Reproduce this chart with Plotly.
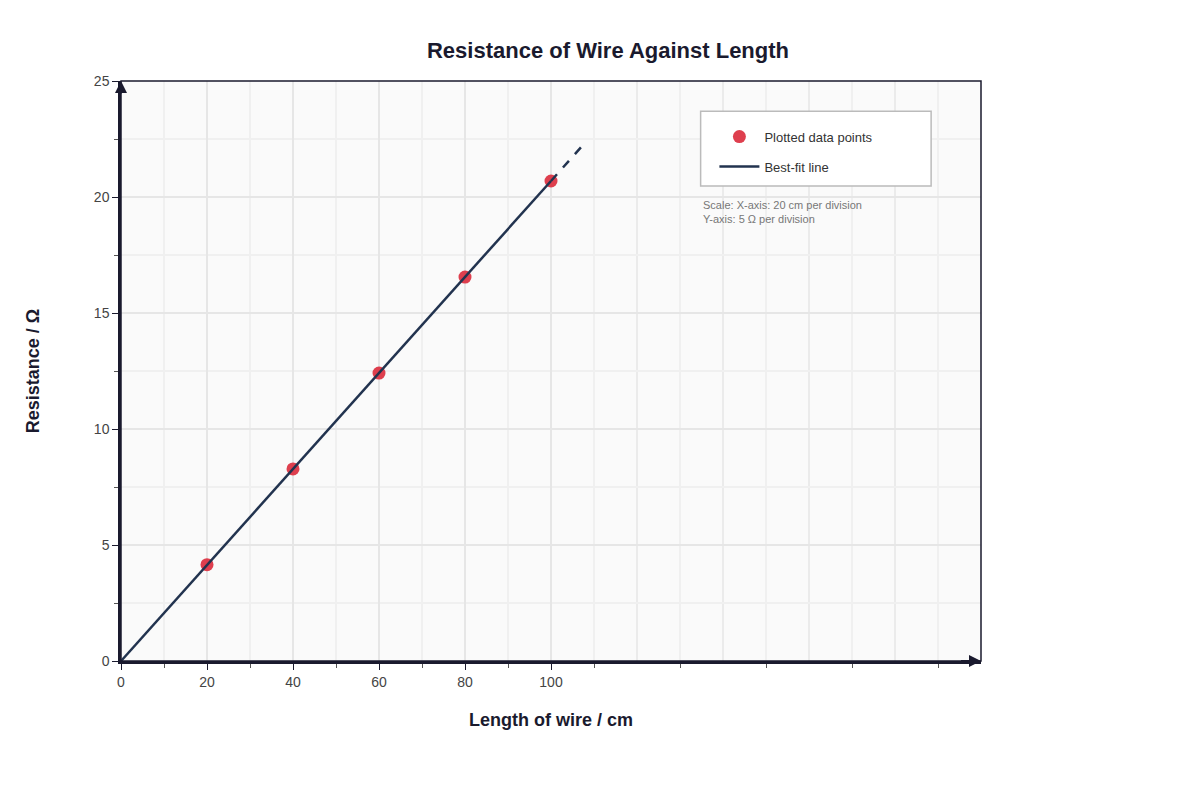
import plotly.graph_objects as go

lengths = [20, 40, 60, 80, 100]
resistances = [4.15, 8.28, 12.41, 16.55, 20.69]
fit_x = [0, 100]
fit_y = [0, 20.69]
ext_x = [100, 107]
ext_y = [20.69, 22.15]
x_ticks = [0, 20, 40, 60, 80, 100]
y_ticks = [0, 5, 10, 15, 20, 25]
extra_grid_x = [120, 140, 160, 180]
x_minor = [10, 30, 50, 70, 90, 110, 130, 150, 170, 190]

navy = "#22334f"
fig = go.Figure()
fig.add_trace(go.Scatter(x=lengths, y=resistances, mode="markers",
                         marker=dict(color="#dc3545", size=13, opacity=0.95),
                         name="Plotted data points", legendgroup="a"))
fig.add_trace(go.Scatter(x=fit_x, y=fit_y, mode="lines", line=dict(color=navy, width=2.5),
                         name="Best-fit line", legendgroup="b"))
fig.add_trace(go.Scatter(x=ext_x, y=ext_y, mode="lines", line=dict(color=navy, width=2.5, dash="dash"),
                         showlegend=False, legendgroup="b"))

for gx in extra_grid_x:
    fig.add_shape(type="line", x0=gx, x1=gx, y0=0, y1=25, xref="x", yref="y",
                  line=dict(color="#e6e6e6", width=1.5), layer="below")

fig.update_layout(
    width=1200, height=800, paper_bgcolor="white", plot_bgcolor="#fafafa",
    margin=dict(l=113, r=227, t=73, b=147),
    font=dict(family="Liberation Sans, Arial", color="#333"),
    title=dict(text="<b>Resistance of Wire Against Length</b>", x=0.5, y=0.947, yanchor="middle",
               font=dict(size=22, color="#1a1a2e")),
    legend=dict(x=0.69, y=0.93, xanchor="left", yanchor="top", bgcolor="rgba(0,0,0,0)",
                borderwidth=0, font=dict(size=13, color="#333"),
                itemwidth=40, tracegroupgap=10),
    xaxis=dict(range=[0, 200], tickvals=x_ticks, showgrid=True, gridcolor="#e6e6e6", gridwidth=1.5,
               ticks="outside", ticklen=6, tickcolor="#1a1a2e", showline=True, linecolor="#1a1a2e",
               linewidth=2.5, zeroline=False, mirror=False, tickfont=dict(size=14, color="#444"),
               minor=dict(tickvals=x_minor, ticks="outside", ticklen=4, tickcolor="#555",
                          showgrid=True, gridcolor="#f0f0f0"),
               title=dict(text="<b>Length of wire / cm</b>", font=dict(size=18, color="#1a1a2e"),
                          standoff=25)),
    yaxis=dict(range=[0, 25], tickvals=y_ticks, showgrid=True, gridcolor="#e6e6e6", gridwidth=1.5,
               ticks="outside", ticklen=6, tickcolor="#1a1a2e", showline=True, linecolor="#1a1a2e",
               linewidth=2.5, zeroline=False, tickfont=dict(size=14, color="#444"),
               minor=dict(dtick=2.5, ticks="outside", ticklen=4, tickcolor="#555",
                          showgrid=True, gridcolor="#f0f0f0"),
               title=dict(text="<b>Resistance / Ω</b>", font=dict(size=18, color="#1a1a2e"),
                          standoff=50)),
)
fig.add_shape(type="rect", x0=0, x1=1, y0=0, y1=1, xref="paper", yref="paper",
              line=dict(color="#1a1a2e", width=1.5))
# legend box
fig.add_shape(type="rect", x0=0.674, x1=0.942, y0=0.819, y1=0.948, xref="paper", yref="paper",
              line=dict(color="#bbbbbb", width=1.5), fillcolor="white", layer="above")
fig.add_annotation(x=200, y=0, ax=195, ay=0, axref="x", ayref="y", xref="x", yref="y",
                   showarrow=True, arrowhead=2, arrowsize=1.2, arrowwidth=2, arrowcolor="#1a1a2e", text="")
fig.add_annotation(x=0, y=25, ax=0, ay=24.4, axref="x", ayref="y", xref="x", yref="y",
                   showarrow=True, arrowhead=2, arrowsize=1.2, arrowwidth=2, arrowcolor="#1a1a2e", text="")
fig.add_annotation(x=0.674, y=0.80, xref="paper", yref="paper", xanchor="left", yanchor="top",
                   align="left", showarrow=False, font=dict(size=11, color="#777"),
                   text="Scale: X-axis: 20 cm per division<br>Y-axis: 5 Ω per division")
fig.write_html("out.html")
